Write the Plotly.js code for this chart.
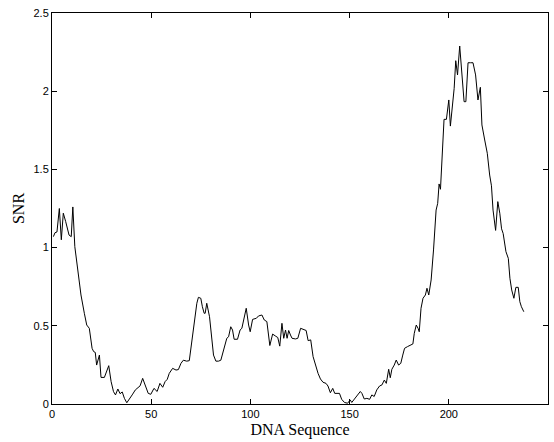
<!DOCTYPE html>
<html>
<head>
<meta charset="utf-8">
<script src="https://cdn.plot.ly/plotly-3.0.1.min.js"></script>
<style>html,body{margin:0;padding:0;background:#fff;}#chart{width:554px;height:442px;}</style>
</head>
<body>
<div id="chart"></div>
<script>
const position = [0.7,1.5,2.5,3.7,4.7,5.7,6.9,8.6,9.7,10.5,11.5,12.9,14.6,16.3,17.5,18.8,20.2,21,21.8,22.5,23.9,24.7,26.4,28.6,29.8,31,32,33.2,34.3,35.4,36.5,37.7,39,40.4,42,43.3,44.4,45.7,47,48.5,49.8,51.4,53,54.4,55.8,57,58.1,59.1,60.8,62.5,63.7,65,66.2,67.9,69.2,70.4,71.8,73,73.8,75,75.8,76.7,77.2,78,79.4,80.6,81.4,82.6,83.9,85.1,86.8,88.1,89,90.1,91,91.8,93.5,94.8,95.7,96.9,97.9,99.1,99.9,101.1,103,104.1,105.8,107,108.3,109.8,111.2,112.8,113.8,114.8,115.9,116.8,117.7,118.5,119.3,120.2,121,122.7,123.9,125.3,127,128.1,129.1,130.4,131.6,132.8,134.1,135.3,136.6,138.1,139.1,140.3,141.5,142.5,143.7,144.9,146,147.4,149,150.3,151.1,152.8,154,155.4,156.2,157.4,158.7,160.1,161.2,162.4,163.7,165.1,166.3,167.5,168.5,169.7,170.5,171.3,172.5,173.5,174.7,175.8,176.8,177.7,179.2,180.6,181.9,182.6,183.6,184.5,185.1,186,187,188.2,189,189.9,191.1,192.3,193.6,194.4,195.1,195.8,196.8,197.6,198.8,200,200.8,201.8,202.7,203.5,204.4,205.5,206.4,207.7,208.6,209.7,211,212.2,213.5,214.7,215.9,216.7,218.1,219.4,220.6,221.5,222.3,223.6,224.7,225.7,226.6,227.4,228.8,230,230.8,231.7,232.8,233.8,235,235.8,236.6,237.8];
const snr = [1.07,1.095,1.10,1.25,1.05,1.22,1.166,1.08,1.07,1.26,1.006,0.878,0.697,0.58,0.505,0.484,0.356,0.335,0.33,0.249,0.313,0.17,0.17,0.245,0.143,0.079,0.058,0.096,0.066,0.077,0.036,0.008,0.036,0.058,0.09,0.107,0.116,0.164,0.116,0.068,0.062,0.1,0.08,0.132,0.107,0.143,0.158,0.196,0.228,0.217,0.22,0.26,0.28,0.274,0.277,0.388,0.537,0.644,0.682,0.676,0.622,0.58,0.58,0.644,0.558,0.41,0.313,0.274,0.274,0.28,0.356,0.42,0.43,0.494,0.473,0.414,0.414,0.473,0.484,0.558,0.612,0.505,0.462,0.541,0.548,0.563,0.569,0.537,0.527,0.374,0.447,0.433,0.425,0.37,0.516,0.42,0.473,0.42,0.47,0.441,0.42,0.416,0.42,0.484,0.478,0.47,0.405,0.41,0.303,0.243,0.196,0.16,0.139,0.132,0.115,0.072,0.1,0.068,0.068,0.068,0.03,0.01,0.005,0.026,0.01,0.036,0.058,0.08,0.068,0.032,0.036,0.03,0.058,0.048,0.09,0.115,0.122,0.153,0.132,0.222,0.168,0.222,0.249,0.281,0.249,0.26,0.313,0.356,0.367,0.377,0.384,0.452,0.505,0.484,0.462,0.612,0.676,0.697,0.74,0.697,0.793,0.985,1.24,1.283,1.407,1.373,1.656,1.82,1.82,1.944,1.777,1.901,2.018,2.195,2.104,2.289,2.157,1.933,1.933,2.182,2.182,2.182,2.104,1.944,2.025,1.784,1.688,1.603,1.464,1.395,1.24,1.11,1.294,1.22,1.12,1.09,0.974,0.931,0.804,0.729,0.676,0.746,0.746,0.654,0.622,0.59];
const xTicks = [0,50,100,150,200,250];
const yTicks = [0,0.5,1,1.5,2,2.5];

const trace = {x: position, y: snr, type: 'scatter', mode: 'lines',
  line: {color: '#000', width: 1}, hoverinfo: 'skip'};

const axisCommon = {showgrid: false, zeroline: false, showline: true, linecolor: '#000', linewidth: 1,
  mirror: 'allticks', ticks: 'inside', ticklen: 5, tickcolor: '#000', tickwidth: 1,
  tickfont: {family: 'Liberation Sans, Arial, sans-serif', size: 11, color: '#000'}};

const layout = {
  width: 554, height: 442,
  margin: {l: 52, r: 6, t: 13, b: 38},
  paper_bgcolor: '#fff', plot_bgcolor: '#fff',
  showlegend: false,
  xaxis: Object.assign({}, axisCommon, {range: [0, 250], tickvals: xTicks, ticktext: xTicks.map(String),
    title: {text: 'DNA Sequence', standoff: 4, font: {family: 'Liberation Serif, Times New Roman, serif', size: 16, color: '#000'}}}),
  yaxis: Object.assign({}, axisCommon, {range: [0, 2.5], tickvals: yTicks, ticktext: yTicks.map(String),
    title: {text: 'SNR', standoff: 4, font: {family: 'Liberation Serif, Times New Roman, serif', size: 16, color: '#000'}}})
};

Plotly.newPlot('chart', [trace], layout, {displayModeBar: false, staticPlot: true});
</script>
</body>
</html>
